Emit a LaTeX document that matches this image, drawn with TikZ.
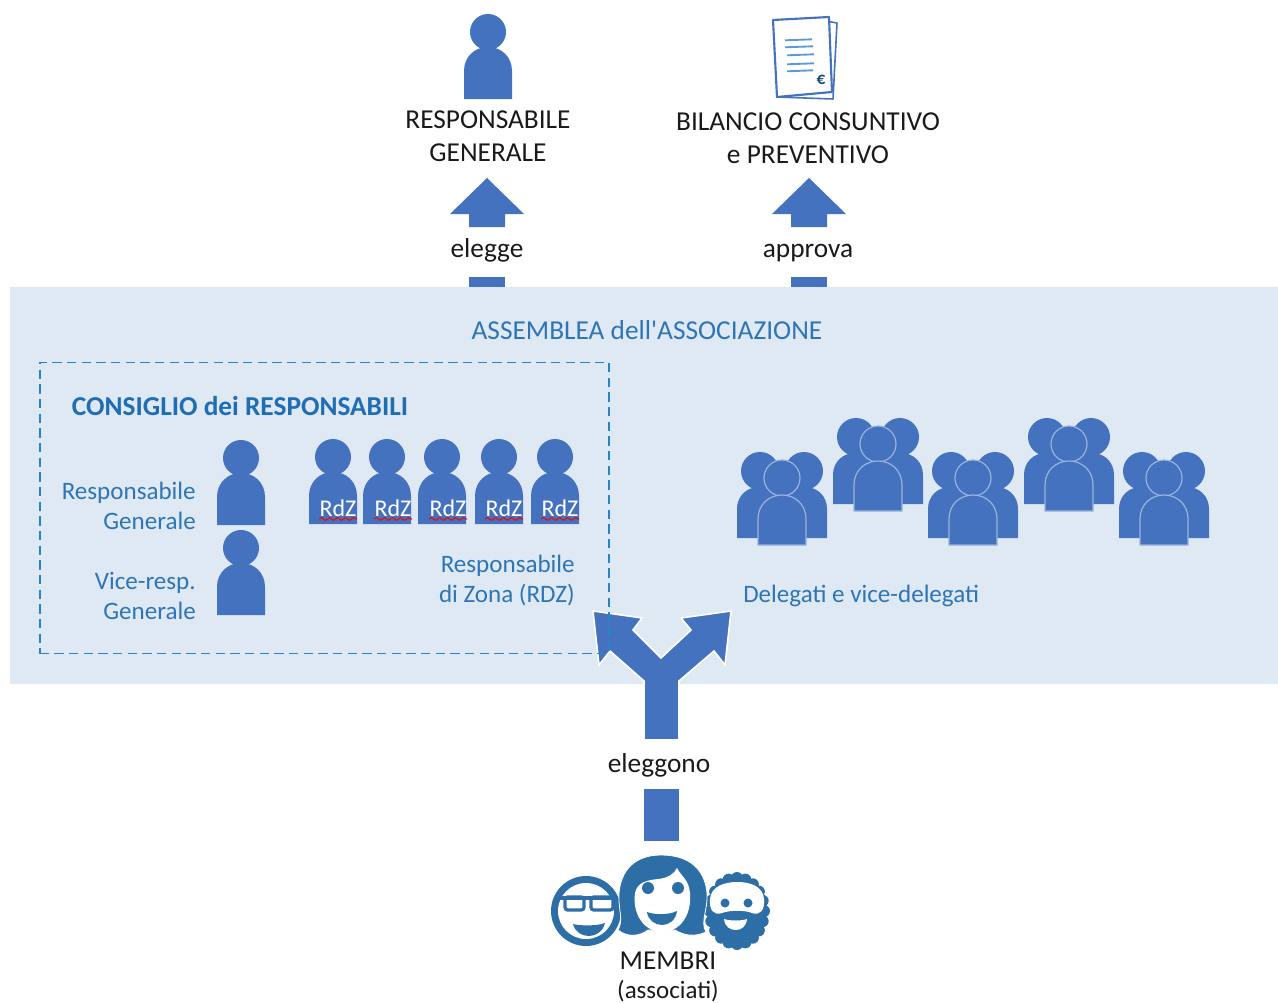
\documentclass[tikz,border=0pt]{standalone}
\usepackage{fontspec}
\setmainfont{Carlito}
\newfontfamily\plainfont{Carlito}
\usetikzlibrary{decorations.pathmorphing}
\definecolor{bandbg}{HTML}{DFE9F4}
\definecolor{shapeblue}{HTML}{4472BE}
\definecolor{labelblue}{HTML}{2E75B6}
\definecolor{headblue}{HTML}{1F6DB5}
\definecolor{dashblue}{HTML}{2585C8}
\definecolor{faceblue}{HTML}{2E6EA6}
\definecolor{darktext}{HTML}{1A1A1A}
\definecolor{linelight}{HTML}{5B9BD5}
\tikzset{
  darklabel/.style={text=darktext,font=\fontsize{20.5}{24.75}\selectfont,align=center,inner sep=1pt},
  bluelabel/.style={text=labelblue,font=\fontsize{18.8}{22.5}\selectfont,inner sep=0pt},
  figfill/.style={fill=shapeblue,draw=none},
  ringfig/.style={fill=shapeblue,draw=bandbg!55!shapeblue,line width=0.9pt},
  blockarrow/.style={fill=shapeblue,draw=none},
  rdzlabel/.style={text=white,font=\fontsize{18}{20}\selectfont,inner sep=0pt},
  face/.style={fill=faceblue,draw=none},
  whiteface/.style={fill=white,draw=none},
}
\newcommand{\bodyshape}[5][figfill]{% style, cx, halfwidth, top, bottom
  \path[#1] ({#2-#3},#5) -- ({#2-#3},{#4+#3})
    .. controls ({#2-#3},{#4+0.4*#3}) and ({#2-0.55*#3},#4) .. (#2,#4)
    .. controls ({#2+0.55*#3},#4) and ({#2+#3},{#4+0.4*#3}) .. ({#2+#3},{#4+#3})
    -- ({#2+#3},#5) -- cycle;}
\newcommand{\personfig}[2]{% cx, head cy
  \fill[shapeblue] (#1,#2) circle [radius=18];
  \bodyshape{#1}{24}{#2+15}{#2+67}}
\newcommand{\groupfig}[2]{% front cx, front head cy
  \fill[shapeblue] ({#1-22},{#2-7}) circle [radius=19];
  \fill[shapeblue] ({#1+22},{#2-7}) circle [radius=19];
  \bodyshape{#1-23}{22}{#2+9}{#2+60}
  \bodyshape{#1+23}{22}{#2+9}{#2+60}
  \path[ringfig] (#1,#2) circle [radius=18];
  \bodyshape[ringfig]{#1}{24}{#2+17}{#2+67}}
\newcommand{\rdzfig}[3]{% name, cx, text x
  \personfig{#2}{457}
  \node[rdzlabel] (#1) at (#3,508) {RdZ};
  \draw[red,line width=0.8pt,decorate,decoration={snake,amplitude=1pt,segment length=6pt}]
    ({#3-19},519) -- ({#3+19},519);}
\newcommand{\uparrowhead}[1]{%
  \path[blockarrow] ({#1-18},227) -- ({#1-18},214) -- ({#1-37},214) -- (#1,178) -- ({#1+37},214) -- ({#1+18},214) -- ({#1+18},227) -- cycle;
  \fill[shapeblue] ({#1-18},277) rectangle ({#1+18},287);}
\begin{document}
\begin{tikzpicture}[x=0.75pt,y=-0.75pt]
\useasboundingbox (0,0) rectangle (1278,1003);
\fill[white] (0,0) rectangle (1278,1003);
\node[fill=bandbg,minimum width=950.999pt,minimum height=297.75pt,inner sep=0pt,anchor=north west] (assembly) at (10,287) {};

% top icons
\personfig{488}{32}
% document icon
\draw[shapeblue,line width=1.2pt,fill=white,line join=round] (826,21) -- (837,23) -- (833,99) -- (777,97) -- cycle;
\draw[shapeblue,line width=1.6pt,fill=white,line join=round] (773,20) -- (829,17) -- (832,92) -- (777,97) -- cycle;
\foreach \ly/\lxa/\lxb in {40/785/812, 47/785/813, 55/787/814, 64/787/814, 71/787/813}{
  \draw[linelight,line width=1.4pt] (\lxa,{\ly+0.3}) -- (\lxb,{\ly-0.7});}
\node[text=headblue!70!black,font=\bfseries\fontsize{13}{14}\selectfont,inner sep=0pt] (euro) at (821,80) {€};

% top labels
\node[darklabel] (rg) at (488,136.5) {RESPONSABILE\\GENERALE};
\node[darklabel] (bil) at (808,138) {BILANCIO CONSUNTIVO\\e PREVENTIVO};

% up arrows
\uparrowhead{487}
\uparrowhead{809}
\node[darklabel,anchor=base] (elegge) at (487,257.5) {elegge};
\node[darklabel,anchor=base] (approva) at (808,257.5) {approva};

% assembly
\node[bluelabel,font=\plainfont\fontsize{20.5}{24}\selectfont] (asslabel) at (647,330) {ASSEMBLEA dell'ASSOCIAZIONE};
\node[text=headblue,font=\bfseries\fontsize{20.5}{24}\selectfont,inner sep=0pt] (conslabel) at (240,406) {CONSIGLIO dei RESPONSABILI};

% council persons
\personfig{241}{458}
\personfig{241}{548}
\node[bluelabel,align=right,anchor=east] (resp) at (196,506) {Responsabile\\Generale};
\node[bluelabel,align=right,anchor=east] (vice) at (196,596) {Vice-resp.\\Generale};
\rdzfig{r1}{333}{338}
\rdzfig{r2}{387}{393}
\rdzfig{r3}{442}{448}
\rdzfig{r4}{499}{504}
\rdzfig{r5}{555}{560}
\node[bluelabel,align=right,anchor=east] (rdz) at (575,580.5) {Responsabile\\di Zona (RDZ)};

% delegates
\groupfig{782}{478}
\groupfig{878}{444}
\groupfig{973}{478}
\groupfig{1069}{444}
\groupfig{1164}{478}
\node[bluelabel,anchor=west] (deleg) at (743,595.5) {Delegati e vice-delegati};

% Y arrow
\path[fill=shapeblue,draw=white,line width=1.2pt,line join=miter]
  (644,740) -- (644,681) -- (610,651) -- (599,665) -- (593,611) -- (642,618) -- (633,630)
  -- (661,658) -- (691,630) -- (681,618) -- (731,611) -- (725,665) -- (714,651) -- (679,681)
  -- (679,740) -- cycle;
\fill[shapeblue] (644,789) rectangle (679,841);
\node[darklabel] (eleggono) at (659,765) {eleggono};

% dashed council frame
\node[draw=dashblue,dashed,line width=1.2pt,dash pattern=on 7pt off 4pt,minimum width=427pt,minimum height=218.5pt,inner sep=0pt,anchor=north west] (council) at (39,361.5) {};

% members
\begin{scope}
  % left face
  \fill[face] (586,911) circle [radius=35];
  \fill[whiteface] (586,911) circle [radius=28];
  \draw[faceblue,line width=2.4pt,rounded corners=2pt] (565,897) rectangle (584,910);
  \draw[faceblue,line width=2.4pt,rounded corners=2pt] (591,897) rectangle (613,910);
  \draw[faceblue,line width=2.4pt] (558,898) -- (618,898);
  \fill[face] (573,924) .. controls (580,926) and (598,926) .. (605,923) .. controls (603,932) and (595,936) .. (589,936) .. controls (582,936) and (575,932) .. (573,924) -- cycle;
  % right face
  \fill[face] (737,911) ellipse [x radius=30, y radius=36];
  \foreach \ang in {0,18,...,342}{
    \fill[face] ({737+27*cos(\ang)},{911+33*sin(\ang)}) circle [radius=6];}
  \path[whiteface] (710,899) .. controls (711,886) and (725,882) .. (737,882)
    .. controls (750,882) and (763,886) .. (764,899) .. controls (765,910) and (760,916) .. (752,913)
    .. controls (745,910) and (730,910) .. (722,913) .. controls (714,916) and (709,910) .. (710,899) -- cycle;
  \fill[face] (725,903) circle [radius=4.5];
  \fill[face] (748,903) circle [radius=4.5];
  \fill[white] (724,919) .. controls (730,921) and (742,921) .. (747,919) .. controls (746,927) and (741,930) .. (736,930) .. controls (730,930) and (725,927) .. (724,919) -- cycle;
  % middle face
  \path[face,draw=white,line width=0.6pt] (661,855) .. controls (690,855) and (705,870) .. (707,893)
    .. controls (708,910) and (700,922) .. (706,932) .. controls (695,937) and (685,936) .. (675,930)
    -- (648,930) .. controls (640,936) and (628,938) .. (618,930)
    .. controls (624,920) and (618,910) .. (619,893) .. controls (621,870) and (635,855) .. (661,855) -- cycle;
  \path[whiteface] (635,893) .. controls (637,882) and (648,880) .. (658,879)
    .. controls (668,878) and (674,874) .. (677,868)
    .. controls (681,876) and (689,880) .. (690,893)
    .. controls (692,915) and (680,932) .. (662,932)
    .. controls (645,932) and (632,915) .. (635,893) -- cycle;
  \fill[face] (648,888) circle [radius=6];
  \fill[face] (678,888) circle [radius=6];
  \fill[face] (647,912) .. controls (655,915) and (669,915) .. (677,911) .. controls (676,920) and (669,925) .. (662,925) .. controls (655,925) and (648,920) .. (647,912) -- cycle;
\end{scope}
\node[darklabel] (membri) at (668,961) {MEMBRI};
\node[darklabel,font=\fontsize{18.7}{22}\selectfont] (assoc) at (668,991) {(associati)};
\end{tikzpicture}
\end{document}
